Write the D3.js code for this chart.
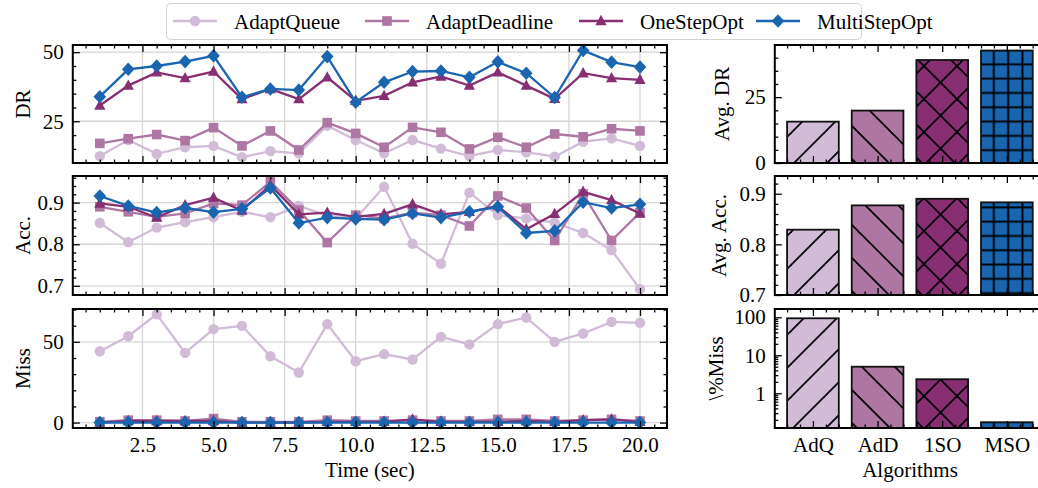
<!DOCTYPE html>
<html>
<head>
<meta charset="utf-8">
<script src="https://cdn.jsdelivr.net/npm/d3@7"></script>
<style>
  body { margin: 0; background: #fff; }
  svg text { font-family: 'Liberation Serif', 'Times New Roman', 'DejaVu Serif', serif; }
</style>
</head>
<body>
<div id="chart"></div>
<script>
// ---- data ----
const timeSec = [1, 2, 3, 4, 5, 6, 7, 8, 9, 10, 11, 12, 13, 14, 15, 16, 17, 18, 19, 20];
const seriesNames = ['AdaptQueue', 'AdaptDeadline', 'OneStepOpt', 'MultiStepOpt'];
const seriesColors = ['#D1BBD7', '#AE76A3', '#882E72', '#1965B0'];
const seriesMarkers = ['circle', 'square', 'triangle', 'diamond'];

const drQueue     = [12.4, 18.2, 13.2, 15.6, 16.1, 12.0, 14.2, 13.4, 23.4, 18.2, 13.4, 18.2, 15.1, 12.4, 14.6, 13.8, 12.2, 17.6, 18.8, 16.1];
const drDeadline  = [17.0, 18.7, 20.2, 18.0, 22.7, 16.1, 21.5, 14.6, 24.5, 20.6, 15.6, 22.8, 21.0, 15.0, 19.2, 15.6, 20.4, 19.4, 22.3, 21.5];
const drOneStep   = [30.7, 37.9, 42.7, 40.6, 43.0, 33.0, 36.7, 33.0, 40.9, 32.4, 34.2, 39.1, 41.2, 37.9, 42.7, 37.9, 33.1, 42.4, 40.6, 40.0];
const drMultiStep = [33.9, 43.8, 45.0, 46.6, 48.7, 33.7, 36.7, 36.3, 48.4, 31.9, 39.1, 43.0, 43.2, 40.9, 46.5, 42.4, 33.6, 50.6, 46.4, 44.6];

const accQueue     = [0.851, 0.805, 0.840, 0.853, 0.865, 0.878, 0.865, 0.892, 0.869, 0.862, 0.938, 0.801, 0.753, 0.924, 0.870, 0.862, 0.852, 0.827, 0.786, 0.692];
const accDeadline  = [0.890, 0.878, 0.866, 0.874, 0.898, 0.894, 0.950, 0.882, 0.804, 0.870, 0.862, 0.876, 0.870, 0.844, 0.916, 0.887, 0.809, 0.921, 0.809, 0.876];
const accOneStep   = [0.898, 0.890, 0.864, 0.894, 0.912, 0.881, 0.942, 0.872, 0.876, 0.866, 0.873, 0.896, 0.872, 0.878, 0.892, 0.836, 0.873, 0.926, 0.906, 0.874];
const accMultiStep = [0.916, 0.892, 0.876, 0.887, 0.877, 0.885, 0.935, 0.851, 0.864, 0.861, 0.859, 0.874, 0.864, 0.878, 0.890, 0.827, 0.832, 0.901, 0.887, 0.896];

const missQueue     = [44.2, 53.5, 67.0, 43.2, 57.9, 59.9, 41.1, 31.0, 61.0, 38.0, 42.4, 39.1, 53.1, 48.4, 61.0, 65.1, 50.0, 55.2, 62.4, 61.8];
const missDeadline  = [0.5, 1.5, 1.5, 1.0, 2.5, 0.5, 0.5, 0.5, 1.5, 1.0, 1.0, 1.5, 1.0, 1.0, 2.0, 2.0, 1.0, 1.5, 2.0, 1.0];
const missOneStep   = [0.0, 1.0, 1.0, 1.0, 1.0, 0.0, 0.0, 0.0, 0.5, 0.5, 0.5, 2.0, 0.5, 0.5, 0.5, 1.0, 0.5, 1.5, 2.0, 0.5];
const missMultiStep = [0.0, 0.0, 0.0, 0.0, 0.0, 0.0, 0.0, 0.0, 0.0, 0.0, 0.0, 0.0, 0.0, 0.0, 0.0, 0.0, 0.0, 0.0, 0.0, 0.0];

const algoLabels = ['AdQ', 'AdD', '1SO', 'MSO'];
const algoHatches = ['fwd', 'back', 'cross', 'grid'];
const avgDR   = [15.7, 19.9, 39.1, 42.7];
const avgAcc  = [0.829, 0.877, 0.890, 0.883];
const avgMiss = [94, 5.0, 2.34, 0.173];

// ---- layout ----
const W = 1038, H = 488;
const rows = [[45, 163], [176, 295], [309, 428]];
const leftX = [72.8, 667];
const rightX = [774.8, 1045];
const FONT = 21;
const SERIF = "'Liberation Serif', 'Times New Roman', 'DejaVu Serif', serif";

const svg = d3.select('#chart').append('svg')
  .attr('width', W).attr('height', H);
const defs = svg.append('defs');

// hatch patterns for the bars
function hatch(id, color, size, paths, sw) {
  const p = defs.append('pattern').attr('id', id)
    .attr('patternUnits', 'userSpaceOnUse')
    .attr('width', size).attr('height', size);
  p.append('rect').attr('width', size).attr('height', size).attr('fill', color);
  paths.forEach(d => p.append('path').attr('d', d)
    .attr('stroke', '#000').attr('stroke-width', sw).attr('fill', 'none'));
}
const s1 = 33, s2 = 33, s3 = 14.3;
const fwd = s => [`M0,${s}L${s},0`, `M-2,2L2,-2`, `M${s - 2},${s + 2}L${s + 2},${s - 2}`];
const back = s => [`M0,0L${s},${s}`, `M-2,${s - 2}L2,${s + 2}`, `M${s - 2},-2L${s + 2},2`];
hatch('fwd', seriesColors[0], s1, fwd(s1), 1.8);
hatch('back', seriesColors[1], s1, back(s1), 1.8);
hatch('cross', seriesColors[2], s2, fwd(s2).concat(back(s2)), 1.8);
hatch('grid', seriesColors[3], s3, [`M${s3 / 2},0V${s3}`, `M0,${s3 / 2}H${s3}`], 1.9);

// generic inward ticks on all four sides
function frameTicks(g, x, y, xr, yr, opts) {
  const [x0, x1] = xr, [y0, y1] = yr;
  const ax = (axis, tx, ty, vals, size, fmt) => {
    const a = axis.tickValues(vals).tickSize(-size).tickPadding(opts.pad || 9);
    a.tickFormat(fmt || (() => ''));
    const sel = g.append('g').attr('transform', `translate(${tx},${ty})`).call(a);
    sel.attr('font-family', null).attr('font-size', null);
    sel.select('.domain').remove();
    sel.selectAll('line').attr('stroke', '#000').attr('stroke-width', 1.3);
    sel.selectAll('text').attr('fill', '#000');
    return sel;
  };
  // major
  ax(d3.axisBottom(x), 0, y0, opts.xMajor, 7, opts.xFmt);
  ax(d3.axisTop(x), 0, y1, opts.xMajor, 7);
  ax(d3.axisLeft(y), x0, 0, opts.yMajor, 7, opts.yFmt);
  ax(d3.axisRight(y), x1, 0, opts.yMajor, 7);
  // minor
  ax(d3.axisBottom(x), 0, y0, opts.xMinor, 3.5);
  ax(d3.axisTop(x), 0, y1, opts.xMinor, 3.5);
  ax(d3.axisLeft(y), x0, 0, opts.yMinor, 3.5);
  ax(d3.axisRight(y), x1, 0, opts.yMinor, 3.5);
  g.append('rect').attr('x', x0).attr('y', y1)
    .attr('width', x1 - x0).attr('height', y0 - y1)
    .attr('fill', 'none').attr('stroke', '#000').attr('stroke-width', 2);
}

function marker(g, type, cx, cy, color) {
  if (type === 'circle') {
    g.append('circle').attr('cx', cx).attr('cy', cy).attr('r', 5.2).attr('fill', color);
  } else if (type === 'square') {
    g.append('rect').attr('x', cx - 4.8).attr('y', cy - 4.8)
      .attr('width', 9.6).attr('height', 9.6).attr('fill', color);
  } else if (type === 'triangle') {
    g.append('path').attr('d', `M${cx},${cy - 6.2}L${cx + 5.6},${cy + 4.2}L${cx - 5.6},${cy + 4.2}Z`)
      .attr('fill', color);
  } else {
    g.append('path').attr('d', `M${cx},${cy - 6.8}L${cx + 6.3},${cy}L${cx},${cy + 6.8}L${cx - 6.3},${cy}Z`)
      .attr('fill', color);
  }
}

const rangeStep = (a, b, st) => {
  const out = [];
  for (let v = a; v <= b + 1e-9; v += st) out.push(+v.toFixed(6));
  return out;
};

// ---- left: time series panels ----
const xTime = d3.scaleLinear().domain([0.05, 20.95]).range(leftX);
const xMajor = [2.5, 5, 7.5, 10, 12.5, 15, 17.5, 20];
const xMinor = rangeStep(0.5, 20.5, 0.5).filter(v => !xMajor.includes(v));

const linePanels = [
  { row: 0, domain: [9.9, 52.6], yMajor: [25, 50], minorStep: 5, fmt: d3.format('d'),
    label: 'DR', series: [drQueue, drDeadline, drOneStep, drMultiStep] },
  { row: 1, domain: [0.678, 0.964], yMajor: [0.7, 0.8, 0.9], minorStep: 0.02, fmt: d3.format('.1f'),
    label: 'Acc.', series: [accQueue, accDeadline, accOneStep, accMultiStep] },
  { row: 2, domain: [-3.35, 70.35], yMajor: [0, 50], minorStep: 10, fmt: d3.format('d'),
    label: 'Miss', series: [missQueue, missDeadline, missOneStep, missMultiStep] },
];

linePanels.forEach(p => {
  const [top, bottom] = rows[p.row];
  const y = d3.scaleLinear().domain(p.domain).range([bottom, top]);
  const g = svg.append('g');
  const yMinor = rangeStep(Math.ceil(p.domain[0] / p.minorStep) * p.minorStep, p.domain[1], p.minorStep)
    .filter(v => !p.yMajor.some(m => Math.abs(m - v) < 1e-6));

  // grid
  const grid = g.append('g').attr('stroke', '#d6d6d6').attr('stroke-width', 1.3);
  xMajor.forEach(v => grid.append('line').attr('x1', xTime(v)).attr('x2', xTime(v))
    .attr('y1', top).attr('y2', bottom));
  p.yMajor.forEach(v => grid.append('line').attr('y1', y(v)).attr('y2', y(v))
    .attr('x1', leftX[0]).attr('x2', leftX[1]));

  // series
  p.series.forEach((vals, i) => {
    const pts = timeSec.map((t, k) => [xTime(t), y(vals[k])]);
    g.append('path').attr('d', d3.line()(pts)).attr('fill', 'none')
      .attr('stroke', seriesColors[i]).attr('stroke-width', 2.3);
    const mg = g.append('g');
    pts.forEach(pt => marker(mg, seriesMarkers[i], pt[0], pt[1], seriesColors[i]));
  });

  frameTicks(g, xTime, y, leftX, [bottom, top], {
    xMajor, xMinor, yMajor: p.yMajor, yMinor, yFmt: p.fmt,
    xFmt: p.row === 2 ? d3.format('.1f') : null, pad: 9,
  });

  svg.append('text')
    .attr('transform', `translate(30,${(top + bottom) / 2}) rotate(-90)`)
    .attr('text-anchor', 'middle').text(p.label);
});

svg.append('text').attr('x', (leftX[0] + leftX[1]) / 2).attr('y', 477)
  .attr('text-anchor', 'middle').text('Time (sec)');

// ---- right: average bar panels ----
const xBar = d3.scaleLinear().domain([-0.59, 3.59]).range(rightX);
const barIdx = [0, 1, 2, 3];
const barMinor = rangeStep(-0.4, 3.4, 0.2).filter(v => !barIdx.some(m => Math.abs(m - v) < 1e-6));
const barW = 0.8;

const barPanels = [
  { row: 0, y: d3.scaleLinear().domain([0, 44.8]), vals: avgDR, yMajor: [0, 25],
    yMinor: [5, 10, 15, 20, 30, 35, 40], fmt: d3.format('d'), label: 'Avg. DR', lx: 729 },
  { row: 1, y: d3.scaleLinear().domain([0.7, 0.935]), vals: avgAcc, yMajor: [0.7, 0.8, 0.9],
    yMinor: [0.72, 0.74, 0.76, 0.78, 0.82, 0.84, 0.86, 0.88, 0.92], fmt: d3.format('.1f'), label: 'Avg. Acc.', lx: 726 },
  { row: 2, y: d3.scaleLog().domain([0.122, 165]), vals: avgMiss, yMajor: [1, 10, 100],
    yMinor: [0.2, 0.3, 0.4, 0.5, 0.6, 0.7, 0.8, 0.9, 2, 3, 4, 5, 6, 7, 8, 9, 20, 30, 40, 50, 60, 70, 80, 90],
    fmt: d3.format('d'), label: '\\%Miss', lx: 723 },
];

barPanels.forEach(p => {
  const [top, bottom] = rows[p.row];
  const y = p.y.range([bottom, top]);
  const g = svg.append('g');
  p.vals.forEach((v, i) => {
    const x0 = xBar(i - barW / 2), x1 = xBar(i + barW / 2);
    g.append('rect').attr('x', x0).attr('y', y(v))
      .attr('width', x1 - x0).attr('height', bottom - y(v))
      .attr('fill', `url(#${algoHatches[i]})`)
      .attr('stroke', '#111').attr('stroke-width', 1.8);
  });
  frameTicks(g, xBar, y, rightX, [bottom, top], {
    xMajor: barIdx, xMinor: barMinor, yMajor: p.yMajor, yMinor: p.yMinor, yFmt: p.fmt,
    xFmt: p.row === 2 ? (d => algoLabels[d]) : null, pad: 9,
  });
  svg.append('text')
    .attr('transform', `translate(${p.lx},${(top + bottom) / 2}) rotate(-90)`)
    .attr('text-anchor', 'middle').text(p.label);
});

svg.append('text').attr('x', 910).attr('y', 477)
  .attr('text-anchor', 'middle').text('Algorithms');

// ---- legend ----
const legend = svg.append('g');
legend.append('rect').attr('x', 166.5).attr('y', 3.5).attr('width', 695).attr('height', 36)
  .attr('rx', 4).attr('fill', '#fff').attr('fill-opacity', 0.9)
  .attr('stroke', '#d4d4d4').attr('stroke-width', 1);
const legendX = [173, 365, 579, 756];
seriesNames.forEach((name, i) => {
  const lx = legendX[i];
  legend.append('line').attr('x1', lx).attr('x2', lx + 44).attr('y1', 21).attr('y2', 21)
    .attr('stroke', seriesColors[i]).attr('stroke-width', 2.3);
  marker(legend, seriesMarkers[i], lx + 22, 21, seriesColors[i]);
  legend.append('text').attr('x', lx + 61).attr('y', 28.5).text(name);
});

// all text in the serif face at one size
svg.selectAll('text')
  .style('font-family', SERIF)
  .style('font-size', FONT + 'px')
  .attr('fill', '#000');
</script>
</body>
</html>
